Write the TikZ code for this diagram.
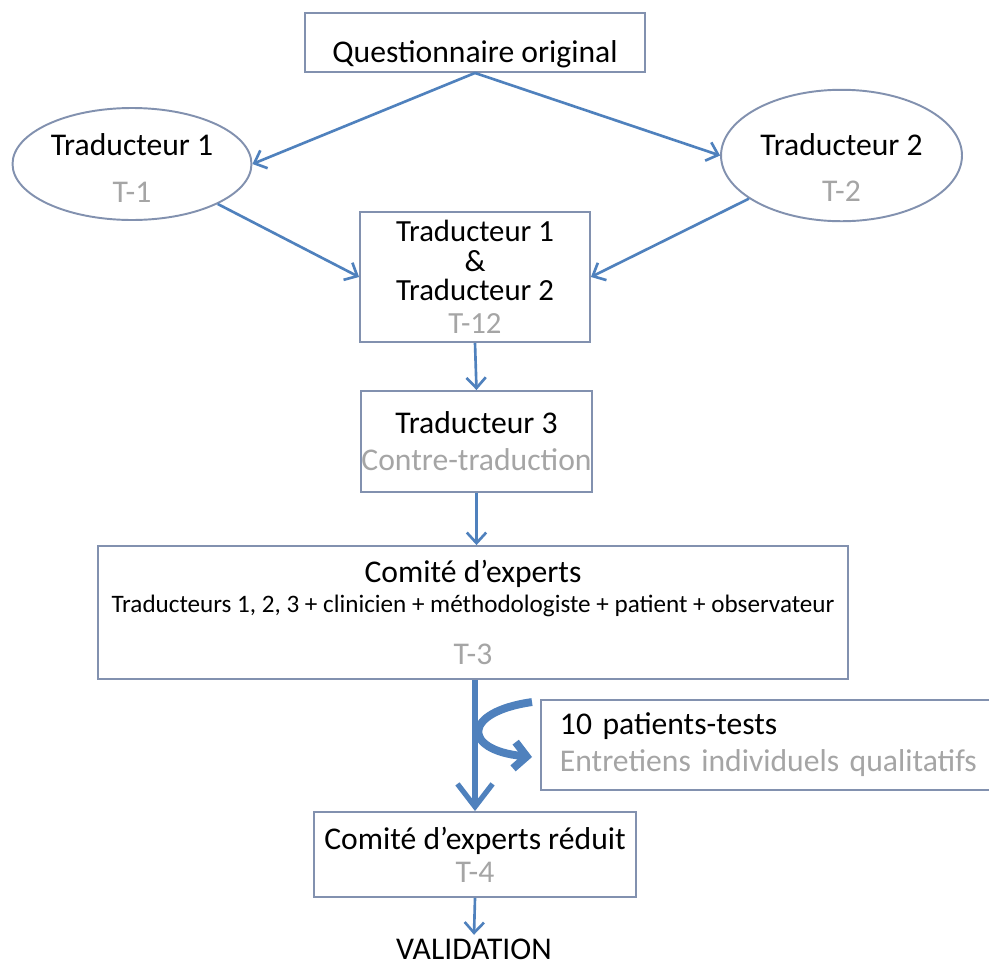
\documentclass[tikz,border=0pt]{standalone}
\usepackage{fontspec}
\setmainfont{Carlito}
\usetikzlibrary{shapes.geometric,arrows.meta}

\definecolor{flowblue}{RGB}{79,129,189}
\definecolor{boxline}{RGB}{130,145,175}
\definecolor{softgrey}{RGB}{165,165,165}

\tikzset{
  stepbox/.style={draw=boxline,line width=1.1pt,fill=white,align=center,inner sep=0pt},
  transl/.style={ellipse,draw=boxline,line width=1.1pt,align=center,inner sep=0pt},
  flow/.style={draw=flowblue,line width=1.5pt,-{Straight Barb[length=6pt,width=11pt]}},
  bigflow/.style={draw=flowblue,line width=3pt,-{Straight Barb[length=13pt,width=20pt,line width=3pt]}},
}
\newcommand{\subtxt}[1]{{\color{softgrey}#1}}

\begin{document}
\begin{tikzpicture}[x=0.02cm,y=-0.02cm,font=\fontsize{18}{18}\selectfont]

  % page frame, same proportions as the original slide
  \useasboundingbox (0,0) rectangle (989,967);
  \fill[white] (0,0) rectangle (989,967);

  % source questionnaire and the two forward translations
  \node[stepbox,minimum width=6.8cm,minimum height=1.18cm] (quest) at (475,42.5)
        {\rule{0pt}{26pt}Questionnaire original};
  \node[transl,minimum width=4.78cm,minimum height=2.24cm] (trad1) at (132,164)
        {\rule{0pt}{16.6pt}Traducteur 1\\[8.7pt]\subtxt{T-1}};
  \node[transl,minimum width=4.82cm,minimum height=2.22cm] (trad2) at (841.5,155.5)
        {\rule{0pt}{26.2pt}Traducteur 2\\[8.7pt]\subtxt{T-2}};

  % synthesis, back translation, committee
  \node[stepbox,minimum width=4.6cm,minimum height=2.6cm,
        font=\fontsize{17.5}{16.8}\selectfont] (synth) at (475,277)
        {Traducteur 1\\\&\\Traducteur 2\\[2pt]\subtxt{T-12}};
  \node[stepbox,minimum width=4.62cm,minimum height=2.02cm] (back) at (476.5,441.5)
        {Traducteur 3\\[3pt]\subtxt{Contre-traduction}};
  \node[stepbox,minimum width=15cm,minimum height=2.66cm] (comite) at (473,612.5)
        {Comité d’experts\\[-1pt]
         {\fontsize{14.3}{18}\selectfont Traducteurs 1, 2, 3 + clinicien + méthodologiste + patient + observateur}\\[11.6pt]
         \subtxt{T-3}};

  % pre-test on patients
  \node[stepbox,anchor=west,align=left,text width=8.4cm,inner xsep=0.38cm,
        minimum height=1.8cm] (tests) at (540,745)
        {10 patients-tests\\[3pt]\mbox{\subtxt{Entretiens individuels qualitatifs}}};

  % reduced committee and final step
  \node[stepbox,minimum width=6.44cm,minimum height=1.7cm] (reduit) at (475,854.5)
        {Comité d’experts réduit\\[0.8pt]\subtxt{T-4}};
  \node[inner sep=2pt] (valid) at (474,949) {VALIDATION};

  % connectors
  \draw[flow] (quest.south) -- (trad1.east);
  \draw[flow] (quest.south) -- (trad2.west);
  \draw[flow] (trad1.-25) -- (synth.west);
  \draw[flow] (trad2.-155) -- (synth.east);
  \draw[flow] (synth.south) -- (back.north);
  \draw[flow] (back.south) -- (back.south |- comite.north);
  \draw[bigflow] (reduit.north |- comite.south) -- (reduit.north);
  \draw[flow] (reduit.south) -- (valid.north);

  % bent arrow out to the patient tests
  \coordinate (bendin) at ([xshift=-0.16cm,yshift=-0.06cm]tests.north west);
  \coordinate (bendout) at ([xshift=-0.16cm,yshift=-0.24cm]tests.west);
  \draw[draw=flowblue,line width=4.5pt,-{Straight Barb[length=7pt,width=15pt]}]
        (bendin) .. controls (462,712) and (462,750) .. (bendout);

\end{tikzpicture}
\end{document}
